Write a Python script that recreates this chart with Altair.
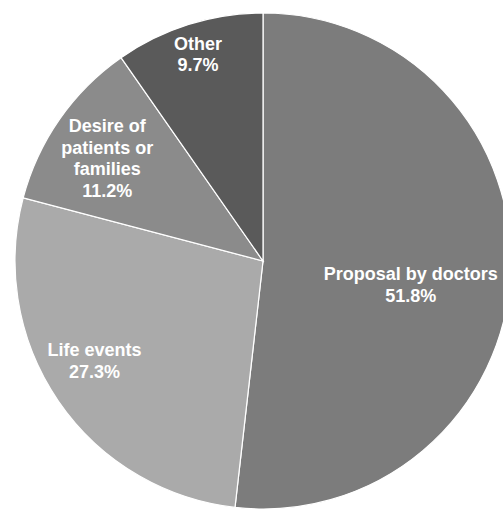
import altair as alt
import pandas as pd

categories = ["Proposal by doctors", "Life events", "Desire of patients or families", "Other"]
label_lines = [["Proposal by doctors"], ["Life events"], ["Desire of", "patients or", "families"], ["Other"]]
values = [51.8, 27.3, 11.2, 9.7]
colors = ["#7c7c7c", "#aaaaaa", "#8b8b8b", "#5a5a5a"]

df = pd.DataFrame({
    "category": categories,
    "value": values,
    "order": list(range(len(categories))),
    "label": [lines + [f"{v}%"] for lines, v in zip(label_lines, values)],
})

total = sum(values)
CX, CY, R = 263, 261, 248

color_scale = alt.Scale(domain=categories, range=colors)

arcs = alt.Chart(df).mark_arc(outerRadius=R, stroke="white", strokeWidth=1.2).encode(
    theta=alt.Theta("value:Q", stack=True, scale=alt.Scale(domain=[0, total])),
    color=alt.Color("category:N", scale=color_scale, legend=None),
    order=alt.Order("order:Q"),
    x=alt.value(CX),
    y=alt.value(CY),
)

# label layout: (radius, dx, dy) per slice
layout = {
    "Proposal by doctors": (148, 0, 6),
    "Life events": (192, -10, -18),
    "Desire of patients or families": (185, -4, -28),
    "Other": (217, 0, -9),
}

base = alt.Chart(df).transform_window(
    cum="sum(value)", sort=[alt.SortField("order")]
).transform_calculate(mid="datum.cum - datum.value / 2")

texts = []
for cat in categories:
    r, dx, dy = layout[cat]
    texts.append(
        base.transform_filter(alt.datum.category == cat)
        .mark_text(
            radius=r, dx=dx, dy=dy, font="Liberation Sans", fontWeight="bold",
            fontSize=18, color="white", align="center", baseline="middle", lineHeight=21.5,
        )
        .encode(
            theta=alt.Theta("mid:Q", scale=alt.Scale(domain=[0, total])),
            text="label",
            x=alt.value(CX),
            y=alt.value(CY),
        )
    )

chart = alt.layer(arcs, *texts).properties(
    width=503, height=512, padding=0, autosize=alt.AutoSizeParams(type="none"),
    background="white",
).configure_view(stroke=None)

chart.save("out.html", embed_options={"renderer": "svg", "actions": False})
